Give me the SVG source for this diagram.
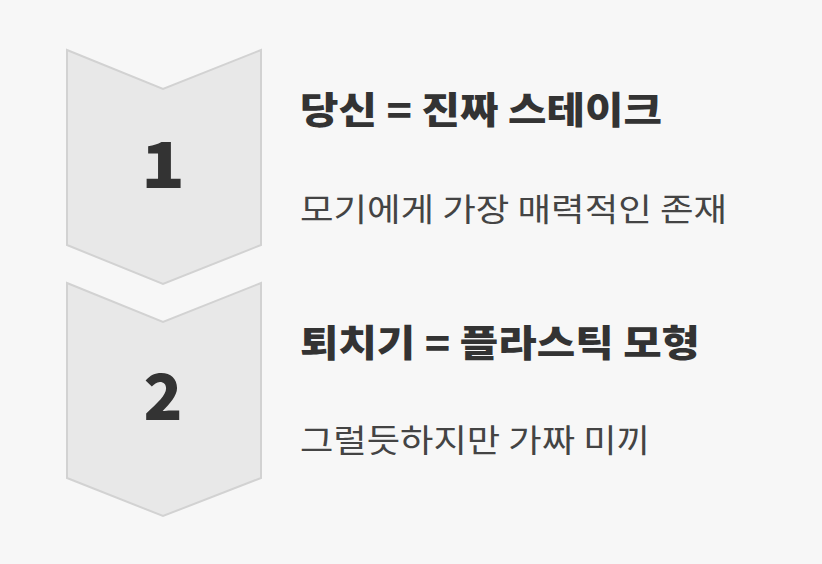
<svg xmlns="http://www.w3.org/2000/svg" width="822" height="564" viewBox="0 0 822 564">
<style>
.chev{fill:#e8e8e8;stroke:#d2d2d2;stroke-width:2}
.num{font-family:"Noto Sans CJK KR","Noto Sans",sans-serif;font-weight:900;font-size:64px;fill:#333;text-anchor:middle}
.t{font-family:"Noto Sans CJK KR",sans-serif;font-weight:900;font-size:37px;fill:#333}
.s{font-family:"Noto Sans CJK KR",sans-serif;font-size:32px;fill:#444}
</style>
<rect width="822" height="564" fill="#f7f7f7"/>
<g id="step1">
<polygon class="chev" points="67,50 163,89 261,50 261,245 163,284 67,245"/>
<text class="num" x="163" y="188" textLength="44" lengthAdjust="spacingAndGlyphs">1</text>
<text class="t" x="300" y="124" textLength="362" lengthAdjust="spacingAndGlyphs">당신 = 진짜 스테이크</text>
<text class="s" x="300" y="221" textLength="427" lengthAdjust="spacingAndGlyphs">모기에게 가장 매력적인 존재</text>
</g>
<g id="step2">
<polygon class="chev" points="67,283 163,322 261,283 261,478 163,516 67,478"/>
<text class="num" x="163" y="420">2</text>
<text class="t" x="300" y="357" textLength="400" lengthAdjust="spacingAndGlyphs">퇴치기 = 플라스틱 모형</text>
<text class="s" x="300" y="452" textLength="350" lengthAdjust="spacingAndGlyphs">그럴듯하지만 가짜 미끼</text>
</g>
<g id="connectors"/>
</svg>
